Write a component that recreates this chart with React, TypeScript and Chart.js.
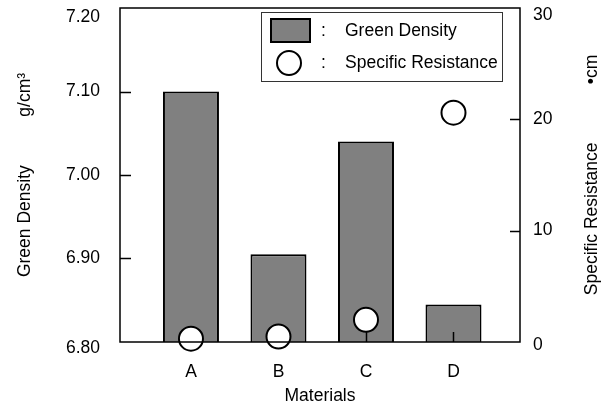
import React, { useEffect, useRef } from "react";
import { Chart, registerables } from "chart.js";

Chart.register(...registerables);

const categories = ["A", "B", "C", "D"];
const greenDensity = [7.1, 6.905, 7.04, 6.845];
const specificResistance = [0.3, 0.5, 2.0, 20.6];
const densityTicks = [6.8, 6.9, 7.0, 7.1, 7.2];
const resistanceTicks = [0, 10, 20, 30];
const rightTitle = "Specific Resistance            \u2022cm";

const FONT = "'Liberation Sans', Arial, sans-serif";
const FS = 17.5;

const framePlugin = {
  id: "framePlugin",
  afterDatasetDraw(chart: any, args: any) {
    if (args.index !== 0) return;
    const { ctx, chartArea } = chart;
    const x = chart.scales.x;
    const y = chart.scales.y;
    const y2 = chart.scales.y2;
    ctx.save();
    ctx.strokeStyle = "#000";
    ctx.lineWidth = 1.5;
    ctx.beginPath();
    categories.forEach((_, i) => {
      const px = Math.round(x.getPixelForValue(i)) + 0.5;
      ctx.moveTo(px, chartArea.bottom);
      ctx.lineTo(px, chartArea.bottom - 10);
    });
    densityTicks.slice(1, -1).forEach((v) => {
      const py = Math.round(y.getPixelForValue(v)) + 0.5;
      ctx.moveTo(chartArea.left, py);
      ctx.lineTo(chartArea.left + 11, py);
    });
    resistanceTicks.slice(1, -1).forEach((v) => {
      const py = Math.round(y2.getPixelForValue(v)) + 0.5;
      ctx.moveTo(chartArea.right, py);
      ctx.lineTo(chartArea.right - 10, py);
    });
    ctx.stroke();
    ctx.restore();
  },
  afterDraw(chart: any) {
    const { ctx, chartArea } = chart;
    const y = chart.scales.y;
    const y2 = chart.scales.y2;
    ctx.save();
    ctx.strokeStyle = "#000";
    ctx.lineWidth = 1.5;
    ctx.strokeRect(chartArea.left, chartArea.top, chartArea.right - chartArea.left, chartArea.bottom - chartArea.top);

    // y tick labels (end labels sit slightly inside the frame, as in the reference)
    ctx.fillStyle = "#000";
    ctx.font = `${FS}px ${FONT}`;
    ctx.textBaseline = "middle";
    ctx.textAlign = "right";
    densityTicks.forEach((v, i) => {
      let py = y.getPixelForValue(v);
      if (i === densityTicks.length - 1) py += 9;
      if (i === 0) py += 6;
      ctx.fillText(v.toFixed(2), chartArea.left - 20, py);
    });
    ctx.textAlign = "left";
    resistanceTicks.forEach((v, i) => {
      let py = y2.getPixelForValue(v);
      if (i === resistanceTicks.length - 1) py += 7;
      if (i === 0) py += 3;
      ctx.fillText(String(v), chartArea.right + 13, py);
    });

    // right title, reading bottom to top
    ctx.save();
    ctx.translate(592, (chartArea.top + chartArea.bottom) / 2);
    ctx.rotate(-Math.PI / 2);
    ctx.textAlign = "center";
    ctx.fillText(rightTitle, 0, 0);
    ctx.restore();

    // legend
    const bx = chartArea.right - 259;
    const by = chartArea.top + 4;
    ctx.lineWidth = 1;
    ctx.strokeStyle = "#333";
    ctx.fillStyle = "#fff";
    ctx.fillRect(bx, by, 241, 69);
    ctx.strokeRect(bx + 0.5, by + 0.5, 241, 69);

    ctx.fillStyle = "#808080";
    ctx.fillRect(bx + 10, by + 7, 39, 23);
    ctx.strokeStyle = "#000";
    ctx.lineWidth = 2;
    ctx.strokeRect(bx + 10, by + 7, 39, 23);

    ctx.beginPath();
    ctx.arc(bx + 28, by + 51, 12, 0, Math.PI * 2);
    ctx.fillStyle = "#fff";
    ctx.fill();
    ctx.stroke();

    ctx.fillStyle = "#000";
    ctx.textBaseline = "middle";
    ctx.textAlign = "left";
    ctx.fillText(":", bx + 60, by + 19);
    ctx.fillText("Green Density", bx + 84, by + 19);
    ctx.fillText(":", bx + 60, by + 51);
    ctx.fillText("Specific Resistance", bx + 84, by + 51);
    ctx.restore();
  },
};

export default function App() {
  const ref = useRef<HTMLCanvasElement | null>(null);
  useEffect(() => {
    document.body.style.margin = "0";
    const canvas = ref.current!;
    const chart = new Chart(canvas, {
      type: "bar",
      data: {
        datasets: [
          {
            type: "bar",
            label: "Green Density",
            data: greenDensity.map((v, i) => ({ x: i, y: v })),
            backgroundColor: "#808080",
            borderColor: "#000",
            borderWidth: 2,
            borderSkipped: "bottom",
            barPercentage: 0.64,
            categoryPercentage: 1,
            yAxisID: "y",
            order: 2,
          } as any,
          {
            type: "line",
            label: "Specific Resistance",
            data: specificResistance.map((v, i) => ({ x: i, y: v })),
            showLine: false,
            pointRadius: 12,
            pointBackgroundColor: "#fff",
            pointBorderColor: "#000",
            pointBorderWidth: 2,
            yAxisID: "y2",
            clip: false,
            order: 1,
          } as any,
        ],
      },
      options: {
        responsive: false,
        animation: false,
        devicePixelRatio: 1,
        layout: { autoPadding: false, padding: { top: 8, left: 0, right: 0, bottom: 0 } },
        plugins: { legend: { display: false }, tooltip: { enabled: false } },
        scales: {
          x: {
            type: "linear",
            offset: false,
            min: -0.811,
            max: 3.76,
            grid: { display: false, drawTicks: false },
            border: { display: false },
            afterBuildTicks: (s: any) => {
              s.ticks = categories.map((_, i) => ({ value: i }));
            },
            afterFit: (s: any) => {
              s.height = 67;
              s.paddingLeft = 0;
              s.paddingRight = 0;
            },
            ticks: {
              callback: (v: any) => categories[v] ?? "",
              color: "#000",
              font: { family: FONT, size: FS },
              padding: 20,
              maxRotation: 0,
            },
            title: {
              display: true,
              text: "Materials",
              color: "#000",
              font: { family: FONT, size: FS },
              padding: { top: 2, bottom: 2 },
            },
          },
          y: {
            type: "linear",
            position: "left",
            min: 6.8,
            max: 7.2,
            grid: { display: false, drawTicks: false },
            border: { display: false },
            afterBuildTicks: (s: any) => {
              s.ticks = densityTicks.map((v) => ({ value: v }));
            },
            afterFit: (s: any) => {
              s.width = 120;
              s.paddingTop = 0;
              s.paddingBottom = 0;
            },
            ticks: { display: false },
            title: {
              display: true,
              text: "Green Density          g/cm\u00B3",
              color: "#000",
              font: { family: FONT, size: FS },
              padding: { top: 15, bottom: 0 },
            },
          },
          y2: {
            type: "linear",
            position: "right",
            min: 0,
            max: 30,
            grid: { display: false, drawTicks: false },
            border: { display: false },
            afterBuildTicks: (s: any) => {
              s.ticks = resistanceTicks.map((v) => ({ value: v }));
            },
            afterFit: (s: any) => {
              s.width = 87;
              s.paddingTop = 0;
              s.paddingBottom = 0;
            },
            ticks: { display: false },
            title: { display: false },
          },
        },
      },
      plugins: [framePlugin],
    } as any);
    return () => chart.destroy();
  }, []);
  return (
    <div style={{ width: 607, height: 409 }}>
      <canvas ref={ref} width={607} height={409} style={{ display: "block" }} />
    </div>
  );
}
